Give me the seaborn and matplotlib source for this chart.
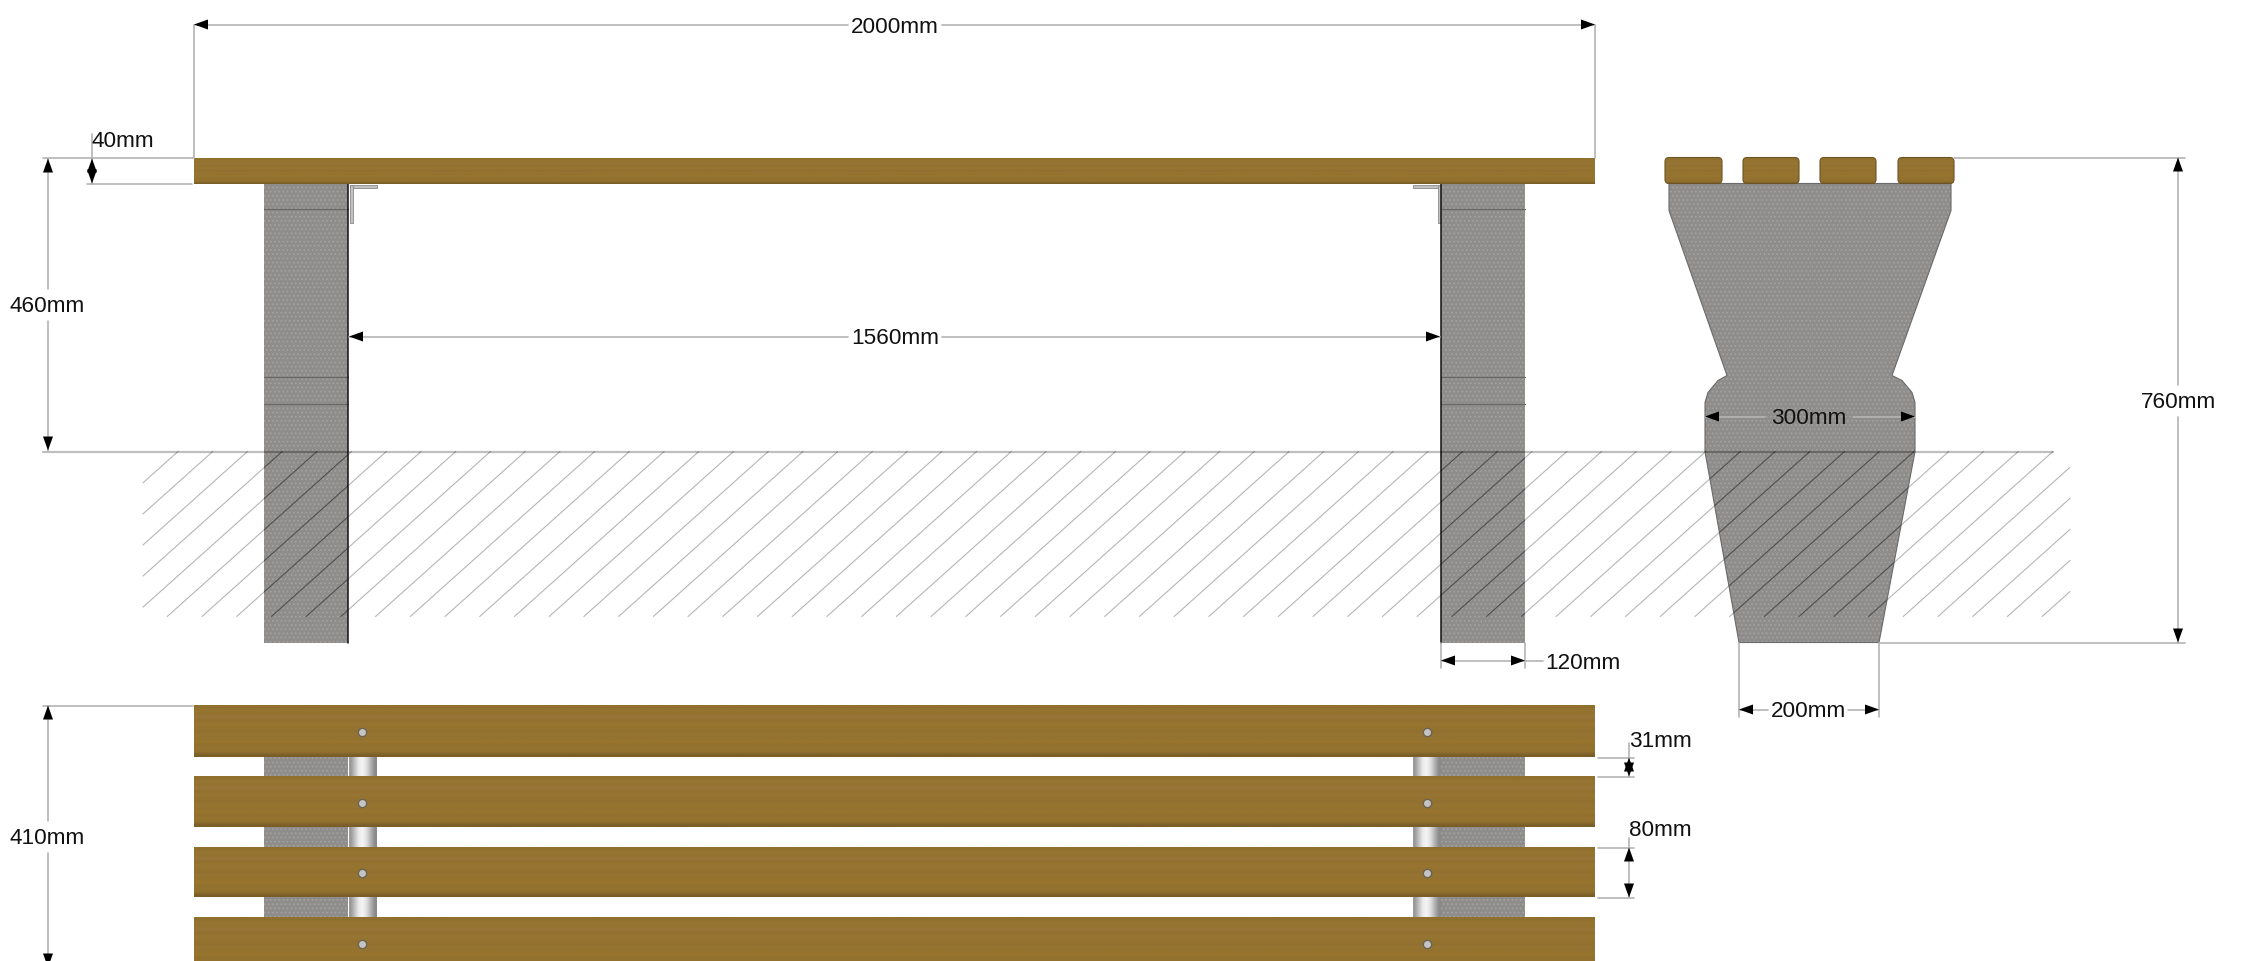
"""Bench dimension drawing: side, end and plan views, in image pixel units."""

from __future__ import annotations

import matplotlib

matplotlib.use("Agg")

import matplotlib.pyplot as plt
import pandas as pd
import seaborn as sns
from matplotlib.colors import to_rgb
from matplotlib.patches import FancyBboxPatch, Polygon, Rectangle

WIDTH = 2241
HEIGHT = 962
Y_SHIFT = 1.5

CONCRETE = "#8e8d8c"
CONCRETE_SPECK = "#a4a3a1"
DIM_GRAY = "#b4b4b4"
WOOD_SHADES = ["#90702e", "#967431", "#94722f", "#98763a", "#93702e", "#977532", "#95732f", "#927030", "#967431",
               "#94722f", "#98762f", "#92702e", "#95732f", "#907030", "#7a5e27"]
PIPE_SHADES = ["#9a9a9a", "#c4c4c4", "#ececec", "#f4f4f4", "#dcdcdc", "#b0b0b0", "#8a8a8a"]

# labels: text, centre x, centre y
LABEL_TEXT = ["2000mm", "40mm", "460mm", "1560mm", "300mm", "760mm", "120mm", "200mm", "410mm", "31mm", "80mm"]
LABEL_X = [895, 123, 47, 895, 1809, 2178, 1583, 1808, 47, 1660, 1660]
LABEL_Y = [25, 139, 304, 336, 416, 400, 661, 709, 836, 739, 828]

# dimension and extension lines: x0, y0, x1, y1
DIM_LINES = [
    (194, 24, 848, 24), (942, 24, 1595, 24), (194, 24, 194, 157), (1595, 24, 1595, 157),
    (43, 157, 193, 157), (87, 183, 192, 183), (92, 133, 92, 183),
    (48, 158, 48, 288), (48, 320, 48, 450),
    (349, 336, 848, 336), (942, 336, 1440, 336),
    (1705, 416, 1765, 416), (1853, 416, 1915, 416),
    (2178, 157, 2178, 384), (2178, 416, 2178, 642), (1954, 157, 2185, 157), (1879, 642, 2185, 642),
    (1441, 642, 1441, 667), (1525, 642, 1525, 667), (1441, 660, 1525, 660), (1525, 660, 1543, 660),
    (1739, 642, 1739, 716), (1879, 642, 1879, 716), (1739, 709, 1768, 709), (1848, 709, 1879, 709),
    (43, 705, 193, 705), (48, 705, 48, 820), (48, 852, 48, 962),
    (1598, 757, 1634, 757), (1598, 776, 1634, 776), (1629, 742, 1629, 776),
    (1598, 847, 1634, 847), (1598, 897, 1634, 897), (1629, 837, 1629, 897),
]

# arrow tips: x, y, direction
ARROW_TIPS = [
    (194, 24, "left"), (1595, 24, "right"), (92, 158, "up"), (92, 183, "down"),
    (48, 158, "up"), (48, 450, "down"), (349, 336, "left"), (1440, 336, "right"),
    (1705, 416, "left"), (1915, 416, "right"), (2178, 157, "up"), (2178, 642, "down"),
    (1441, 660, "left"), (1525, 660, "right"), (1739, 709, "left"), (1879, 709, "right"),
    (48, 705, "up"), (48, 967, "down"), (1629, 757, "up"), (1629, 776, "down"),
    (1629, 847, "up"), (1629, 897, "down"),
]

# side view
TOP_PLANK = (194, 157, 1595, 183)
SIDE_LEGS_X = [(264, 348), (1441, 1525)]
LEG_TOP = 183
LEG_BOTTOM = 642
LEG_JOINTS_Y = [208, 376, 403]
BRACKETS = [
    (350, 184, 377, 187), (350, 184, 353, 222),
    (1413, 184, 1438, 187), (1438, 184, 1441, 222),
]
GROUND_Y = 451
GROUND_X = (43, 2053)

# ground hatching
HATCH_LEFT = 143
HATCH_RIGHT = 2070
HATCH_BOTTOM = 616
HATCH_FIRST_TOP = 178
HATCH_STEP = 34.72
HATCH_COUNT = 60
HATCH_SLOPE = 0.895

# end view
END_PLANKS_X = [(1665, 1722), (1743, 1799), (1820, 1876), (1898, 1954)]
END_PROFILE = [
    (1669, 183), (1669, 210), (1727, 375), (1718, 380), (1708, 392), (1705, 402), (1705, 451),
    (1739, 642), (1879, 642), (1915, 451), (1915, 402), (1912, 392), (1902, 380), (1892, 375),
    (1951, 210), (1951, 183),
]

# plan view
PLAN_PLANKS_Y = [(705, 757), (776, 827), (847, 897), (917, 970)]
PLAN_GAPS_Y = [(755, 778), (825, 849), (895, 919)]
PLAN_PIPES_X = [(349, 377), (1413, 1441)]
SCREW_X = [362, 1427]
SCREW_Y = [731, 802, 872, 943]


def draw_segments(ax, segments, color, linewidth, zorder, clip_patch=None):
    """Draw separate straight segments through one seaborn line plot."""
    rows = []
    for number, (x0, y0, x1, y1) in enumerate(segments):
        rows.append({"segment": number, "x": x0, "y": y0})
        rows.append({"segment": number, "x": x1, "y": y1})
    before = len(ax.lines)
    sns.lineplot(
        data=pd.DataFrame(rows), x="x", y="y", units="segment", estimator=None, sort=False,
        color=color, linewidth=linewidth, zorder=zorder, legend=False, ax=ax,
    )
    if clip_patch is not None:
        for line in ax.lines[before:]:
            line.set_clip_path(clip_patch)


def hatch_segments():
    """Diagonal ground hatching, trimmed at the left and right limits."""
    segments = []
    for k in range(HATCH_COUNT):
        top_x = HATCH_FIRST_TOP + k * HATCH_STEP
        x0 = top_x - (HATCH_BOTTOM - GROUND_Y) / HATCH_SLOPE
        y0 = HATCH_BOTTOM
        if x0 < HATCH_LEFT:
            y0 = GROUND_Y + (top_x - HATCH_LEFT) * HATCH_SLOPE
            x0 = HATCH_LEFT
        x1, y1 = top_x, GROUND_Y
        if x1 > HATCH_RIGHT:
            y1 = GROUND_Y + (top_x - HATCH_RIGHT) * HATCH_SLOPE
            x1 = HATCH_RIGHT
        segments.append((x0, y0, x1, y1))
    return segments


def wood_fill(ax, x0, y0, x1, y1, clip_patch=None):
    """Plank face: faint horizontal bands of wood shades, darker along the lower edge."""
    bands = [[to_rgb(shade)] for shade in WOOD_SHADES]
    image = ax.imshow(bands, extent=(x0, x1, y1, y0), aspect="auto", interpolation="bilinear", zorder=5)
    if clip_patch is not None:
        image.set_clip_path(clip_patch)


def concrete_patch(ax, points, zorder=2):
    patch = Polygon(points, closed=True, facecolor=CONCRETE, edgecolor=CONCRETE_SPECK,
                    hatch="....", linewidth=0, zorder=zorder)
    ax.add_patch(patch)
    return patch


def draw_arrow(ax, x, y, direction):
    length, half = 14, 5
    if direction == "left":
        points = [(x, y), (x + length, y - half), (x + length, y + half)]
    elif direction == "right":
        points = [(x, y), (x - length, y - half), (x - length, y + half)]
    elif direction == "up":
        points = [(x, y), (x - half, y + length), (x + half, y + length)]
    else:
        points = [(x, y), (x - half, y - length), (x + half, y - length)]
    ax.fill(*zip(*points), color="black", linewidth=0, zorder=9)


def main() -> None:
    sns.set_theme(style="white")
    plt.rcParams["font.family"] = ["Liberation Sans", "DejaVu Sans"]
    plt.rcParams["hatch.linewidth"] = 0.7

    fig = plt.figure(figsize=(WIDTH / 100, HEIGHT / 100), dpi=100)
    ax = fig.add_axes([0, 0, 1, 1])

    # concrete in the side and end views
    clips = []
    for x0, x1 in SIDE_LEGS_X:
        clips.append(concrete_patch(ax, [(x0, LEG_TOP), (x1, LEG_TOP), (x1, LEG_BOTTOM), (x0, LEG_BOTTOM)]))
        joints = [(x0, y, x1, y) for y in LEG_JOINTS_Y]
        draw_segments(ax, joints, "#6a6867", 0.9, 3)
    clips.append(concrete_patch(ax, END_PROFILE))
    end_outline = Polygon(END_PROFILE, closed=True, fill=False, edgecolor="#6a6a6a", linewidth=0.8, zorder=3)
    ax.add_patch(end_outline)
    draw_segments(ax, [(348, LEG_TOP, 348, LEG_BOTTOM), (1441, LEG_TOP, 1441, LEG_BOTTOM)], "#111111", 1.1, 4)

    # ground
    hatch = hatch_segments()
    draw_segments(ax, hatch, "#b6b6b6", 0.8, 1)
    for clip in clips:
        draw_segments(ax, hatch, "#4f4f4f", 0.8, 3, clip_patch=clip)
    ax.plot(GROUND_X, (GROUND_Y, GROUND_Y), color="black", alpha=0.25, linewidth=1.6, zorder=4)

    # brackets under the top plank
    for x0, y0, x1, y1 in BRACKETS:
        ax.add_patch(Rectangle((x0, y0), x1 - x0, y1 - y0, facecolor="#c2c2c2", edgecolor="#8a8a8a",
                               linewidth=0.6, zorder=3))

    # planks
    wood_fill(ax, *TOP_PLANK)
    for x0, x1 in END_PLANKS_X:
        box = FancyBboxPatch((x0 + 3, TOP_PLANK[1] + 3), x1 - x0 - 6, TOP_PLANK[3] - TOP_PLANK[1] - 6,
                             boxstyle="round,pad=3,rounding_size=4", fill=False, edgecolor="#6f5423",
                             linewidth=0.8, zorder=6)
        ax.add_patch(box)
        wood_fill(ax, x0, TOP_PLANK[1], x1, TOP_PLANK[3], clip_patch=box)

    # plan view: legs and pipes seen through the gaps
    for y0, y1 in PLAN_GAPS_Y:
        for x0, x1 in SIDE_LEGS_X:
            concrete_patch(ax, [(x0, y0), (x1, y0), (x1, y1), (x0, y1)])
        for x0, x1 in PLAN_PIPES_X:
            ax.imshow([[to_rgb(c) for c in PIPE_SHADES]], extent=(x0, x1, y1, y0),
                      aspect="auto", interpolation="bilinear", zorder=3)
    for y0, y1 in PLAN_PLANKS_Y:
        wood_fill(ax, TOP_PLANK[0], y0, TOP_PLANK[2], y1)
    for y in SCREW_Y:
        for x in SCREW_X:
            ax.plot(x, y, marker="o", markersize=6, markerfacecolor="#c4c4c4", markeredgecolor="#6a6450",
                    markeredgewidth=1, zorder=7)

    # dimensions
    draw_segments(ax, DIM_LINES, DIM_GRAY, 1.2, 8)
    for x, y, direction in ARROW_TIPS:
        draw_arrow(ax, x, y, direction)
    for text, x, y in zip(LABEL_TEXT, LABEL_X, LABEL_Y):
        ax.text(x, y + 1, text, fontsize=16.2, color="#111111", ha="center", va="center", zorder=10)

    ax.set_xlim(0, WIDTH)
    ax.set_ylim(HEIGHT - Y_SHIFT, -Y_SHIFT)
    ax.axis("off")
    fig.savefig("out.png", dpi=100, facecolor="white")
    plt.close(fig)


if __name__ == "__main__":
    main()
